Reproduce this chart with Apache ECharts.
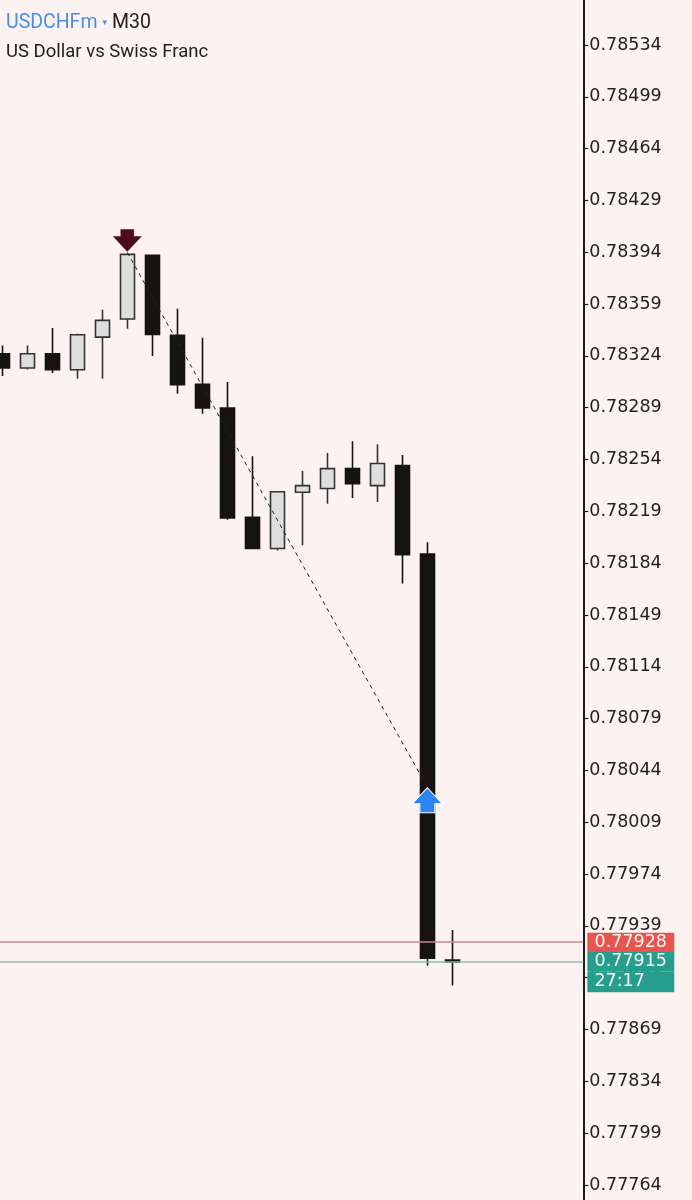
<!DOCTYPE html>
<html>
<head>
<meta charset="utf-8">
<script src="https://cdn.jsdelivr.net/npm/echarts@6/dist/echarts.min.js"></script>
<style>
  html, body { margin: 0; padding: 0; background: #fdf2f2; }
  #chart { width: 692px; height: 1200px; }
</style>
</head>
<body>
<div id="chart"></div>
<script>
// ---- data (M30 candles, oldest -> newest) ----
const symbolName = 'USDCHFm';
const timeframe = 'M30';
const description = 'US Dollar vs Swiss Franc';
const barIndex = [0, 1, 2, 3, 4, 5, 6, 7, 8, 9, 10, 11, 12, 13, 14, 15, 16, 17, 18];
const opens  = [0.783255, 0.783158, 0.783255, 0.783147, 0.783367, 0.783489, 0.783919, 0.783379, 0.783048, 0.782888, 0.782150, 0.781939, 0.782319, 0.782344, 0.782479, 0.782364, 0.782499, 0.781902, 0.779160];
const closes = [0.783158, 0.783255, 0.783147, 0.783383, 0.783480, 0.783926, 0.783385, 0.783046, 0.782888, 0.782145, 0.781939, 0.782323, 0.782364, 0.782479, 0.782377, 0.782513, 0.781898, 0.779171, 0.779145];
const lows   = [0.783104, 0.783149, 0.783124, 0.783086, 0.783086, 0.783424, 0.783239, 0.782985, 0.782850, 0.782134, 0.781935, 0.781925, 0.781961, 0.782242, 0.782280, 0.782253, 0.781702, 0.779121, 0.778988];
const highs  = [0.783311, 0.783311, 0.783428, 0.783390, 0.783552, 0.783932, 0.783919, 0.783559, 0.783363, 0.783063, 0.782562, 0.782323, 0.782463, 0.782584, 0.782663, 0.782643, 0.782571, 0.781981, 0.779362];
// signals: sell arrow at bar 5 high, buy arrow at bar 17
const sellSignal = { bar: 5, price: 0.783939 };
const buySignal  = { bar: 17, price: 0.780327 };
// current quotes
const askPrice = 0.77928;
const bidPrice = 0.77915;
const barTimer = '27:17';
// price axis ticks
const priceInterval = 0.00035;
const priceMin = 0.77729;
const priceMax = 0.78569;
// visible bar range (in bar-index units)
const barMin = -0.092;
const barMax = 23.24;

// ---- styles ----
const BG = '#fdf2f2';
const AXIS_FONT = 'DejaVu Sans';
const TITLE_FONT = 'Roboto';
const RED = '#e8554f';
const TEAL = '#259e8e';

const candleData = barIndex.map((x, i) => [x, opens[i], closes[i], lows[i], highs[i]]);

const chart = echarts.init(document.getElementById('chart'), null, { renderer: 'canvas' });

const tagRow = (bg, h) => ({
  backgroundColor: bg, color: '#f6f6f6', fontFamily: AXIS_FONT, fontSize: 17.5,
  width: 87, height: h, lineHeight: h, align: 'center'
});

const quoteLine = (price, color, label) => [
  { coord: [barMin, price], lineStyle: { color: color, width: 1.5, type: 'solid' }, label: label },
  { coord: [barMax, price] }
];

chart.setOption({
  animation: false,
  backgroundColor: BG,
  title: {
    left: 6, top: 12, padding: 0, itemGap: 9,
    text: '{s|' + symbolName + '} {d|▾} {m|' + timeframe + '}',
    textStyle: {
      fontWeight: 'normal',
      rich: {
        s: { color: '#4a8fdf', fontFamily: TITLE_FONT, fontSize: 19.5, fontWeight: 'normal', lineHeight: 22 },
        d: { color: '#4a8fdf', fontFamily: 'DejaVu Sans', fontSize: 9, fontWeight: 'normal', lineHeight: 22 },
        m: { color: '#1e1e1e', fontFamily: TITLE_FONT, fontSize: 19.5, fontWeight: 'normal', lineHeight: 22 }
      }
    },
    subtext: description,
    subtextStyle: { color: '#1e1e1e', fontFamily: TITLE_FONT, fontSize: 18.5, fontWeight: 'normal', lineHeight: 22 }
  },
  grid: { left: 0, width: 583.3, top: -6.8, height: 1243.6, containLabel: false, outerBoundsMode: 'none' },
  xAxis: {
    type: 'value', min: barMin, max: barMax, show: false
  },
  yAxis: {
    type: 'value', position: 'right', scale: true,
    min: priceMin, max: priceMax, interval: priceInterval,
    axisLine: { show: true, onZero: false, lineStyle: { color: '#1c1c1c', width: 2 } },
    axisTick: { show: true, inside: false, length: 5, lineStyle: { color: '#1c1c1c', width: 1.2 } },
    splitLine: { show: false },
    axisLabel: {
      show: true, margin: 6, color: '#222', fontFamily: AXIS_FONT, fontSize: 17.5,
      showMinLabel: false, showMaxLabel: false,
      formatter: v => v.toFixed(5)
    }
  },
  series: [{
    type: 'candlestick',
    encode: { x: 0, y: [1, 2, 3, 4] },
    data: candleData,
    barWidth: 15,
    itemStyle: {
      color: '#dedede', color0: '#171313',
      borderColor: '#333333', borderColor0: '#171313',
      borderWidth: 1.6
    },
    markLine: {
      silent: true, symbol: ['none', 'none'], animation: false,
      data: [
        [
          { coord: [sellSignal.bar, sellSignal.price], lineStyle: { color: '#222222', width: 1, type: [4, 4] }, label: { show: false } },
          { coord: [buySignal.bar, buySignal.price] }
        ],
        quoteLine(askPrice, '#c78a92', {
          show: true, position: 'end', distance: 4,
          formatter: () => '{p|' + askPrice.toFixed(5) + '}',
          rich: { p: tagRow(RED, 19) }
        }),
        quoteLine(bidPrice, '#8fbab3', {
          show: true, position: 'end', distance: 4,
          // timer row padded with spaces so it starts where the price starts
          formatter: () => '{e| }\n{p|' + bidPrice.toFixed(5) + '}\n{t|' + barTimer + '\u00a0\u00a0\u00a0\u00a0}',
          rich: {
            e: { width: 87, height: 20.5, lineHeight: 20.5, fontSize: 12 },
            p: tagRow(TEAL, 20.5),
            t: tagRow(TEAL, 20.5)
          }
        })
      ]
    },
    markPoint: {
      silent: true, animation: false,
      label: { show: false },
      data: [
        {
          coord: [sellSignal.bar, sellSignal.price],
          symbol: 'path://M7.5,0 L20.5,0 L20.5,7 L28,7 L14,22 L0,7 L7.5,7 Z',
          symbolSize: [28, 22], symbolOffset: [0, -12],
          itemStyle: { color: '#4c0b20', borderColor: '#4c0b20', borderWidth: 0.5 }
        },
        {
          coord: [buySignal.bar, buySignal.price],
          symbol: 'path://M15,0 L30,16 L22.5,16 L22.5,25 L7.5,25 L7.5,16 L0,16 Z',
          symbolSize: [30, 25], symbolOffset: [0, 13],
          itemStyle: { color: '#2e84f0', borderColor: '#ffffff', borderWidth: 1 }
        }
      ]
    }
  }]
});
</script>
</body>
</html>
